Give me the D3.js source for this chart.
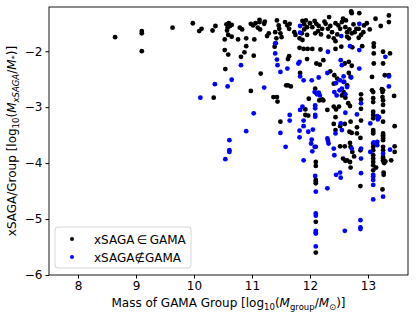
<!DOCTYPE html>
<html>
<head>
<meta charset="utf-8">
<script src="https://cdn.jsdelivr.net/npm/d3@7"></script>
<style>
  body { margin: 0; background: #fff; }
  text { font-family: "DejaVu Sans", sans-serif; fill: #000; }
</style>
</head>
<body>
<div id="chart"></div>
<script>
// xSAGA in GAMA (black)
const inGama = [
  [8.64,-1.75],[9.10,-1.64],[9.10,-1.68],[9.10,-2.00],[9.63,-1.58],[9.98,-1.50],[10.09,-1.64],[10.13,-1.60],[10.32,-1.63],[10.37,-1.55],[10.34,-2.83],
  [10.56,-1.52],[10.60,-1.50],[10.62,-1.55],[10.58,-1.58],[10.65,-1.53],[10.57,-1.63],[10.59,-1.71],[10.65,-1.74],[10.53,-1.79],[10.53,-1.98],[10.59,-2.06],[10.54,-2.32],
  [10.76,-1.79],[10.79,-1.58],[10.83,-1.61],[10.90,-1.77],[10.90,-1.91],[10.81,-2.10],[10.87,-2.02],[10.98,-2.71],
  [10.98,-1.51],[11.02,-1.54],[11.06,-1.50],[11.10,-1.58],[11.14,-1.61],[11.13,-1.44],[11.13,-1.48],[11.22,-1.47],[11.21,-1.51],[11.26,-1.73],[11.29,-1.68],[11.04,-1.79],[11.03,-2.08],[11.15,-2.40],
  [11.39,-1.92],[11.41,-1.86],[11.43,-1.45],[11.46,-1.54],[11.47,-1.60],[11.40,-1.66],[11.49,-1.68],[11.51,-1.75],[11.42,-1.77],
  [11.37,-2.82],[11.43,-2.82],[11.44,-2.90],[11.49,-3.26],
  [11.57,-1.48],[11.61,-1.54],[11.65,-1.51],[11.64,-1.60],[11.73,-1.66],[11.75,-1.71],
  [11.87,-1.46],[11.93,-1.45],[11.90,-1.52],[11.95,-1.57],[11.90,-1.61],[11.86,-1.68],[11.95,-1.71],[11.82,-1.77],[11.87,-1.80],
  [12.00,-1.50],[12.04,-1.57],[12.08,-1.46],[12.11,-1.51],[12.15,-1.55],[12.21,-1.60],[12.14,-1.64],[12.09,-1.68],[12.19,-1.70],
  [12.25,-1.47],[12.27,-1.51],[12.31,-1.60],[12.35,-1.55],[12.38,-1.66],[12.32,-1.74],[12.41,-1.77],[12.47,-1.70],[12.33,-1.39],[12.44,-1.82],[12.44,-1.50],
  [12.49,-1.54],[12.52,-1.60],[12.61,-1.57],[12.64,-1.66],[12.68,-1.61],[12.72,-1.68],[12.64,-1.74],[12.67,-1.77],[12.80,-1.60],[12.77,-1.66],
  [12.57,-1.42],[12.62,-1.45],[12.55,-1.48],[12.71,-1.29],[12.85,-1.32],[12.72,-1.32],[12.75,-1.52],[12.98,-1.50],
  [13.36,-1.36],[13.36,-1.48],[13.13,-1.42],[13.22,-1.55],[13.03,-1.61],[12.93,-1.54],[12.92,-1.66],[12.88,-1.71],[12.84,-1.76],[12.84,-1.60],
  [11.82,-1.94],[11.89,-1.96],[11.96,-1.96],[12.04,-1.96],[12.18,-1.97],[12.44,-1.96],[12.54,-1.92],[12.73,-1.93],[12.90,-1.91],[13.10,-1.86],[13.10,-1.92],
  [11.64,-2.09],[11.62,-2.14],[11.95,-2.14],[12.11,-2.22],[12.17,-2.24],[12.23,-2.16],[12.60,-2.22],[12.67,-2.19],[12.72,-2.26],[13.10,-2.04],[13.10,-2.22],[13.26,-2.01],[13.26,-2.22],[13.38,-2.04],
  [11.83,-2.39],[11.62,-2.61],[11.67,-2.63],[11.59,-2.61],[12.09,-2.67],[12.35,-2.36],[12.42,-2.43],[12.41,-2.58],[12.47,-2.49],[12.58,-2.55],[12.64,-2.61],[12.67,-2.39],[12.70,-2.46],[13.07,-2.46],[13.29,-2.43],[13.36,-2.43],[13.07,-2.70],[13.24,-2.68],[13.26,-2.70],
  [11.98,-2.85],[12.16,-2.88],[12.23,-2.88],[12.21,-2.86],[12.55,-2.79],[12.61,-2.83],[12.58,-2.73],[12.88,-2.77],[12.88,-2.86],[13.09,-2.73],[13.09,-2.84],[13.09,-2.91],[13.25,-2.73],[13.25,-2.82],[13.26,-2.88],[13.45,-2.80],
  [11.92,-3.14],[11.97,-3.15],[11.92,-3.04],[12.30,-3.05],[12.41,-2.99],[12.45,-3.04],[12.44,-3.18],[12.41,-3.30],[12.50,-2.99],[12.52,-3.34],[12.60,-3.30],[12.66,-2.93],[12.69,-2.98],[12.70,-3.26],[12.72,-3.46],[12.44,-3.41],[12.68,-3.44],[12.81,-3.36],[12.81,-3.47],
  [12.52,-3.70],[12.60,-3.70],[12.69,-3.64],[12.70,-3.71],[12.73,-3.80],[12.76,-3.88],[12.69,-3.98],[12.70,-4.08],[12.61,-3.96],[12.57,-3.92],[12.64,-3.95],
  [12.88,-3.03],[12.88,-3.24],[12.87,-3.55],[12.87,-3.77],[12.87,-4.41],
  [13.09,-3.08],[13.09,-3.14],[13.09,-3.20],[13.09,-3.41],[13.09,-3.44],[13.09,-3.47],[13.09,-3.65],[13.09,-3.71],[13.09,-3.77],[13.09,-3.86],[13.09,-3.92],[13.09,-3.98],[13.09,-4.04],[13.09,-4.13],[13.14,-4.08],
  [13.26,-2.96],[13.26,-3.08],[13.26,-3.26],[13.26,-3.47],[13.26,-3.50],[13.26,-3.53],[13.26,-3.56],[13.26,-3.59],[13.26,-3.71],[13.26,-3.77],[13.26,-3.89],[13.26,-3.92],[13.26,-3.95],[13.27,-3.98],[13.28,-4.00],[13.27,-4.17],[13.27,-4.21],[13.25,-4.47],[13.30,-3.97],[13.40,-3.95],
  [13.46,-3.34],[13.46,-3.70],[13.46,-3.80],
  [12.10,-3.71],[12.10,-3.98],[12.10,-4.05],[12.10,-4.30],[12.10,-4.33],[12.10,-4.36],[12.10,-5.05],[12.10,-5.60]
];

// xSAGA not in GAMA (blue)
const notInGama = [
  [10.11,-2.83],[10.36,-2.59],[10.58,-2.63],[10.65,-2.51],[10.81,-2.25],[11.21,-2.65],[11.03,-3.11],[10.90,-3.43],[10.61,-3.59],[10.61,-3.77],[10.61,-3.80],[10.54,-3.93],
  [11.40,-1.86],[11.40,-2.04],[11.43,-2.15],[11.44,-2.25],[11.49,-2.37],[11.61,-2.31],[11.49,-3.46],
  [11.83,-1.55],[11.83,-1.67],[12.54,-1.73],[12.85,-1.51],[12.31,-2.01],[12.69,-1.91],[12.85,-1.98],[12.85,-2.31],[13.30,-2.10],[13.36,-2.45],[13.36,-2.63],
  [11.82,-2.19],[11.80,-2.22],[11.83,-2.45],[11.89,-2.52],[12.03,-2.52],[12.15,-2.47],[12.30,-2.39],[12.53,-2.16],[12.55,-2.25],
  [12.45,-2.57],[12.52,-2.52],[12.58,-2.45],[12.59,-2.55],[12.55,-2.67],[12.51,-2.70],[12.64,-2.64],[12.71,-2.47],
  [12.08,-2.73],[12.12,-2.77],[12.15,-2.74],[12.17,-2.79],[12.42,-2.73],[12.46,-2.79],[12.61,-2.77],[12.88,-2.93],
  [12.09,-2.97],[12.09,-3.02],[12.09,-3.14],[12.09,-3.17],[11.87,-2.99],[11.83,-3.05],[11.65,-3.14],[11.65,-3.24],[11.82,-3.42],[11.82,-3.54],[11.58,-3.71],[11.89,-3.24],[11.89,-3.34],[12.02,-3.65],[12.04,-3.79],[11.89,-3.95],[11.97,-3.44],[12.05,-3.40],[12.03,-3.58],[12.08,-3.71],
  [12.30,-3.56],[12.31,-3.60],[12.32,-3.65],[12.41,-3.74],[12.42,-3.86],[12.44,-3.47],[12.53,-3.29],[12.55,-3.41],[12.61,-3.10],[12.81,-3.13],
  [12.72,-3.74],[12.88,-3.74],[12.88,-3.92],[12.88,-4.18],
  [13.04,-3.29],[13.04,-3.80],[13.10,-3.63],[13.16,-3.62],[13.16,-3.68],[13.26,-3.83],[13.38,-3.76],[13.16,-3.16],[13.19,-3.18],[13.17,-3.22],
  [13.09,-4.21],[13.09,-4.24],[13.09,-4.30],[13.09,-4.39],[13.09,-4.65],[13.26,-4.60],
  [12.09,-4.23],[12.10,-4.51],[12.10,-4.90],[12.10,-4.94],[12.10,-5.21],[12.10,-5.24],[12.10,-5.26],[12.10,-5.49],
  [12.30,-4.45],[12.45,-4.21],[12.52,-4.17],[12.53,-4.26],[12.60,-5.21],[12.87,-5.02],[12.87,-5.15],[12.87,-5.18]
];

const xTicks = [8, 9, 10, 11, 12, 13];
const yTicks = [-6, -5, -4, -3, -2];
const legendLabels = ["xSAGA\u2009\u2208\u2009GAMA", "xSAGA\u2209GAMA"];
const seriesColors = ["#000000", "#0000ff"];

const width = 416, height = 319;
const margin = {top: 7, right: 8, bottom: 44, left: 49};
const fontSize = 12;

const svg = d3.select("#chart").append("svg")
    .attr("width", width)
    .attr("height", height);

const xScale = d3.scaleLinear()
    .domain([7.5, 13.69])
    .range([margin.left, width - margin.right]);

const yScale = d3.scaleLinear()
    .domain([-6, -1.21])
    .range([height - margin.bottom, margin.top]);

const fmt = d => d < 0 ? "\u2212" + Math.abs(d) : "" + d;

// axes
const xAxis = d3.axisBottom(xScale).tickValues(xTicks).tickSize(3.5).tickPadding(3).tickFormat(fmt);
const yAxis = d3.axisLeft(yScale).tickValues(yTicks).tickSize(3.5).tickPadding(3).tickFormat(fmt);

svg.append("g")
    .attr("transform", `translate(0,${height - margin.bottom})`)
    .call(xAxis)
    .call(g => g.select(".domain").remove())
    .selectAll("text").attr("font-size", fontSize).attr("font-family", "DejaVu Sans");

svg.append("g")
    .attr("transform", `translate(${margin.left},0)`)
    .call(yAxis)
    .call(g => g.select(".domain").remove())
    .selectAll("text").attr("font-size", fontSize).attr("font-family", "DejaVu Sans");

// points
const series = [inGama, notInGama];
series.forEach((pts, i) => {
    svg.append("g")
        .selectAll("circle")
        .data(pts)
        .join("circle")
        .attr("cx", d => xScale(d[0]))
        .attr("cy", d => yScale(d[1]))
        .attr("r", 2.4)
        .attr("fill", seriesColors[i]);
});

// frame
svg.append("rect")
    .attr("x", margin.left)
    .attr("y", margin.top)
    .attr("width", width - margin.left - margin.right)
    .attr("height", height - margin.top - margin.bottom)
    .attr("fill", "none")
    .attr("stroke", "#000")
    .attr("stroke-width", 0.9);

// x label
const xl = svg.append("text")
    .attr("x", (margin.left + width - margin.right) / 2)
    .attr("y", 307)
    .attr("text-anchor", "middle")
    .attr("font-size", fontSize);
xl.append("tspan").text("Mass of GAMA Group [log");
xl.append("tspan").text("10").attr("font-size", 8.5).attr("dy", 3);
xl.append("tspan").text("(").attr("dy", -3);
xl.append("tspan").text("M").attr("font-style", "italic");
xl.append("tspan").text("group").attr("font-size", 8.5).attr("dy", 3);
xl.append("tspan").text("/").attr("dy", -3);
xl.append("tspan").text("M").attr("font-style", "italic");
xl.append("tspan").text("\u2299").attr("font-size", 8.5).attr("dy", 3);
xl.append("tspan").text(")]").attr("dy", -3);

// y label
const yl = svg.append("text")
    .attr("transform", `translate(16,${(margin.top + height - margin.bottom) / 2}) rotate(-90)`)
    .attr("text-anchor", "middle")
    .attr("font-size", fontSize);
yl.append("tspan").text("xSAGA/Group [log");
yl.append("tspan").text("10").attr("font-size", 8.5).attr("dy", 3);
yl.append("tspan").text("(").attr("dy", -3);
yl.append("tspan").text("M").attr("font-style", "italic");
yl.append("tspan").text("xSAGA").attr("font-size", 8.5).attr("font-style", "italic").attr("dy", 3);
yl.append("tspan").text("/").attr("dy", -3);
yl.append("tspan").text("M").attr("font-style", "italic");
yl.append("tspan").text("*").attr("font-size", 8.5).attr("dy", 2);
yl.append("tspan").text(")]").attr("dy", -2);

// legend
const legend = svg.append("g").attr("transform", "translate(55,227)");
legend.append("rect")
    .attr("width", 136)
    .attr("height", 41)
    .attr("rx", 3)
    .attr("fill", "#fff")
    .attr("fill-opacity", 0.8)
    .attr("stroke", "#cccccc")
    .attr("stroke-width", 0.8);

legendLabels.forEach((lab, i) => {
    const row = legend.append("g").attr("transform", `translate(0,${12 + i * 18})`);
    row.append("circle").attr("cx", 17).attr("cy", 0).attr("r", 2).attr("fill", seriesColors[i]);
    row.append("text").attr("x", 39).attr("y", 4.5).attr("font-size", fontSize).text(lab);
});
</script>
</body>
</html>
